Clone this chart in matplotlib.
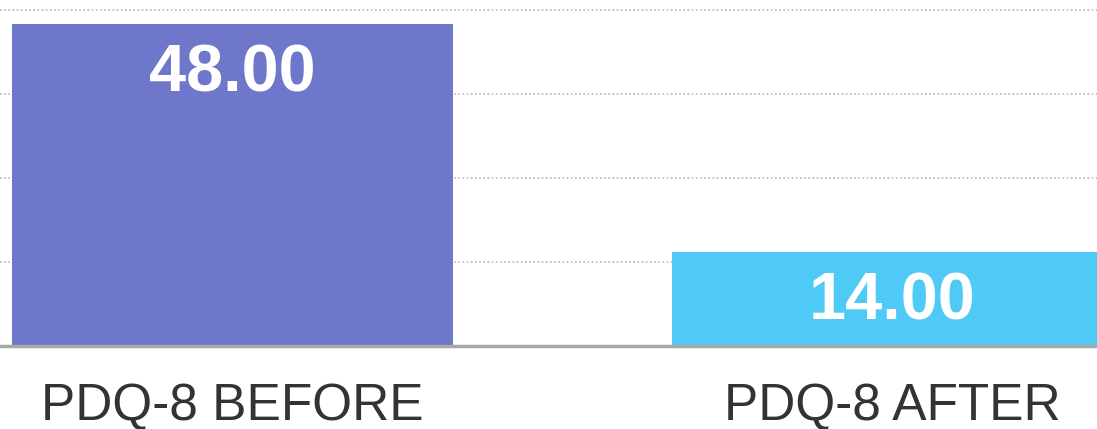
import matplotlib.pyplot as plt

categories = ["PDQ-8 BEFORE", "PDQ-8 AFTER"]
values = [48.00, 14.00]
bar_colors = ["#6e77c9", "#4fc9f6"]
grid_values = [12.5, 25, 37.5, 50]

plt.rcParams["font.family"] = ["Liberation Sans", "DejaVu Sans"]

fig = plt.figure(figsize=(10.97, 4.29), dpi=100)
ax = fig.add_axes([0, 0.1935, 1, 0.8065])

x = list(range(len(categories)))
ax.bar(x, values, width=0.668, color=bar_colors, zorder=2)

for g in grid_values:
    ax.axhline(g, color="#b8b8b8", linestyle=(0, (1, 1.5)), linewidth=1.2, zorder=1)

for xi, v in zip(x, values):
    ax.text(xi, v - 7.6, f"{v:.2f}", ha="center", va="center",
            color="white", fontsize=48, fontweight="bold", zorder=3)

ax.set_xlim(-0.352, 1.31)
ax.set_ylim(0, 51.5)
ax.set_xticks(x)
ax.set_xticklabels(categories, fontsize=37, color="#333333")
ax.tick_params(axis="x", length=0, pad=26)
ax.set_yticks([])

for side in ("top", "left", "right"):
    ax.spines[side].set_visible(False)
ax.spines["bottom"].set_color("#a8a8a8")
ax.spines["bottom"].set_linewidth(2.5)
ax.spines["bottom"].set_zorder(4)

fig.savefig("out.png", dpi=100)
